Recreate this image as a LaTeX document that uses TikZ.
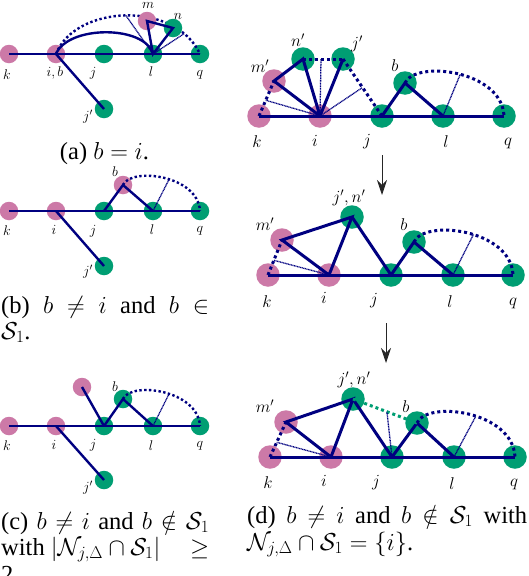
\RequirePackage{fix-cm}
\documentclass[tikz,border=0pt]{standalone}
\usepackage{fontspec}
\setmainfont{Liberation Serif}
\usetikzlibrary{arrows.meta}
\definecolor{nblue}{RGB}{0,0,128}
\definecolor{npink}{RGB}{204,121,167}
\definecolor{ngreen}{RGB}{0,158,115}
\newcommand\capfnt{\fontsize{24.5}{27}\selectfont\spaceskip=0.25em plus 0.2em minus 0.08em\relax\thickmuskip=5mu plus 3.5mu\relax\medmuskip=4mu plus 1mu minus 2mu\relax}
\newcommand\lblsm{\fontsize{14}{14}\selectfont}
\newcommand\lblbg{\fontsize{17}{17}\selectfont}
\begin{document}
\begin{tikzpicture}[x=1pt,y=-1pt,
 pks/.style={circle,fill=npink,draw=none,inner sep=0pt,minimum size=18.5pt},
 grs/.style={circle,fill=ngreen,draw=none,inner sep=0pt,minimum size=18.5pt},
 pkb/.style={circle,fill=npink,draw=none,inner sep=0pt,minimum size=23.5pt},
 grb/.style={circle,fill=ngreen,draw=none,inner sep=0pt,minimum size=23.5pt},
 eds/.style={draw=nblue,line width=2.4pt},
 edb/.style={draw=nblue,line width=3pt},
 dts/.style={draw=nblue,line width=2.4pt,dash pattern=on 2.4pt off 2.4pt},
 dtb/.style={draw=nblue,line width=3pt,dash pattern=on 3pt off 3pt},
 dtg/.style={draw=ngreen,line width=3pt,dash pattern=on 3pt off 3pt},
 hair/.style={draw=nblue,line width=1.3pt,dash pattern=on 1pt off 0.6pt},
 lbs/.style={inner sep=0pt,font=\lblsm},
 lbb/.style={inner sep=0pt,font=\lblbg},
 captxt/.style={inner sep=0pt,anchor=base west,font=\capfnt},
 arr/.style={draw=black!85,line width=0.9pt,-{Stealth[length=15pt,width=10pt,inset=5pt]}}
]
\useasboundingbox (0,0) rectangle (528,576);
\clip (0,0) rectangle (528,576);

%% ---------------- panel (a)
\node[pks] (ak) at (9,54) {};
\node[pks] (ai) at (56,54) {};
\node[grs] (aj) at (104,54) {};
\node[grs] (al) at (153,54) {};
\node[grs] (aq) at (200,54) {};
\node[grs] (ajp) at (104,109) {};
\draw[dts] (ai.center) .. controls (75,5) and (175,0) .. (aq.center)
  coordinate[pos=0.5] (ax1) coordinate[pos=0.85] (ax2);
\node[pks] (am) at (147,21) {};
\node[grs] (an) at (173,28) {};
\draw[eds] (ak.center) -- (aq.center);
\draw[eds] (ai.center) -- (ajp.center);
\draw[eds] (ai.center) .. controls (68,25) and (145,25) .. (al.center);
\draw[eds,line join=miter] (al.center) -- (am.center) -- (an.center) -- cycle;
\draw[hair] (al.center) -- (ax1);
\draw[hair] (al.center) -- (ax2);
\node[lbs] (akL) at (7,75) {$k$};
\node[lbs] (aiL) at (55,73) {$i,b$};
\node[lbs] (ajL) at (93,73) {$j$};
\node[lbs] (alL) at (151,72) {$l$};
\node[lbs] (aqL) at (200,75) {$q$};
\node[lbs] (amL) at (148,5) {$m$};
\node[lbs] (anL) at (178,16) {$n$};
\node[lbs] (ajpL) at (88,117) {$j'$};

%% ---------------- panel (b)
\node[pks] (bk) at (9,211) {};
\node[pks] (bi) at (56,211) {};
\node[grs] (bj) at (104,211) {};
\node[grs] (bl) at (153,211) {};
\node[grs] (bq) at (200,211) {};
\node[pks] (bb) at (123,185) {};
\node[grs] (bjp) at (104,266) {};
\draw[eds] (bk.center) -- (bq.center);
\draw[eds] (bi.center) -- (bjp.center);
\draw[eds] (bj.center) -- (bb.center) -- (bl.center);
\draw[dts] (bb.center) .. controls (131,167) and (198,175) .. (bq.center)
  coordinate[pos=0.55] (bx1);
\draw[hair] (bl.center) -- (bx1);
\node[lbs] (bkL) at (7,231) {$k$};
\node[lbs] (biL) at (54,230) {$i$};
\node[lbs] (bjL) at (93,231) {$j$};
\node[lbs] (blL) at (152,230) {$l$};
\node[lbs] (bqL) at (200,231) {$q$};
\node[lbs] (bbL) at (115,172) {$b$};
\node[lbs] (bjpL) at (88,272) {$j'$};

%% ---------------- panel (c)
\node[pks] (ck) at (9,426) {};
\node[pks] (ci) at (56,426) {};
\node[grs] (cj) at (104,426) {};
\node[grs] (cl) at (153,426) {};
\node[grs] (cq) at (200,426) {};
\node[pks] (cm) at (82,387) {};
\node[grs] (cb) at (123,399) {};
\node[grs] (cjp) at (104,480) {};
\draw[eds] (ck.center) -- (cq.center);
\draw[eds] (ci.center) -- (cjp.center);
\draw[eds] (cj.center) -- (cm.center);
\draw[eds] (cj.center) -- (cb.center) -- (cl.center);
\draw[dts] (cb.center) .. controls (131,381) and (198,390) .. (cq.center)
  coordinate[pos=0.55] (cx1);
\draw[hair] (cl.center) -- (cx1);
\node[lbs] (ckL) at (7,446) {$k$};
\node[lbs] (ciL) at (54,445) {$i$};
\node[lbs] (cjL) at (93,445) {$j$};
\node[lbs] (clL) at (151,446) {$l$};
\node[lbs] (cqL) at (200,446) {$q$};
\node[lbs] (cbL) at (115,387) {$b$};
\node[lbs] (cjpL) at (88,488) {$j'$};

%% ---------------- panel (d) top
\node[pkb] (dk) at (259,116) {};
\node[pkb] (di) at (320,116) {};
\node[grb] (dj) at (382,116) {};
\node[grb] (dl) at (443,116) {};
\node[grb] (dq) at (504,116) {};
\node[pkb] (dm) at (274,81) {};
\node[grb] (dn) at (303,59) {};
\node[grb] (djp) at (343,59) {};
\node[grb] (db) at (405,83) {};
\draw[edb] (dk.center) -- (dq.center);
\draw[edb] (di.center) -- (dm.center) -- (dn.center) -- (di.center);
\draw[edb] (di.center) -- (djp.center);
\draw[edb] (dj.center) -- (db.center) -- (dl.center);
\draw[dtb] (dk.center) -- (dm.center) coordinate[pos=0.45] (dx1);
\draw[dtb] (dn.center) -- (djp.center) coordinate[pos=0.45] (dx2);
\draw[dtb] (djp.center) -- (dj.center) coordinate[pos=0.5] (dx3);
\draw[dtb] (db.center) .. controls (415,60) and (502,70) .. (dq.center)
  coordinate[pos=0.52] (dx4);
\draw[hair] (di.center) -- (dx1);
\draw[hair] (di.center) -- (dx2);
\draw[hair] (di.center) -- (dx3);
\draw[hair] (dl.center) -- (dx4);
\node[lbb] (dkL) at (257,142) {$k$};
\node[lbb] (diL) at (315,141) {$i$};
\node[lbb] (djL) at (367,142) {$j$};
\node[lbb] (dlL) at (446,142) {$l$};
\node[lbb] (dqL) at (508,143) {$q$};
\node[lbb] (dmL) at (260,66) {$m'$};
\node[lbb] (dnL) at (298,40) {$n'$};
\node[lbb] (djpL) at (357,44) {$j'$};
\node[lbb] (dbL) at (395,66) {$b$};

%% ---------------- panel (d) middle
\node[pkb] (ek) at (268,275) {};
\node[pkb] (ei) at (329,275) {};
\node[grb] (ej) at (391,275) {};
\node[grb] (el) at (453,275) {};
\node[grb] (eq) at (513,275) {};
\node[pkb] (em) at (282,240) {};
\node[grb] (en) at (352,217) {};
\node[grb] (eb) at (414,242) {};
\draw[edb] (ek.center) -- (eq.center);
\draw[edb] (ei.center) -- (em.center) -- (en.center) -- (ei.center);
\draw[edb] (en.center) -- (ej.center);
\draw[edb] (ej.center) -- (eb.center) -- (el.center);
\draw[dtb] (ek.center) -- (em.center) coordinate[pos=0.42] (ex1);
\draw[dtb] (eb.center) .. controls (424,219) and (511,229) .. (eq.center)
  coordinate[pos=0.55] (ex2);
\draw[hair] (ei.center) -- (ex1);
\draw[hair] (el.center) -- (ex2);
\node[lbb] (ekL) at (267,302) {$k$};
\node[lbb] (eiL) at (324,298) {$i$};
\node[lbb] (ejL) at (374,301) {$j$};
\node[lbb] (elL) at (450,302) {$l$};
\node[lbb] (eqL) at (513,303) {$q$};
\node[lbb] (emL) at (265,224) {$m'$};
\node[lbb] (enL) at (349,198) {$j',n'$};
\node[lbb] (ebL) at (404,225) {$b$};

%% ---------------- panel (d) bottom
\node[pkb] (fk) at (270,457) {};
\node[pkb] (fi) at (331,457) {};
\node[grb] (fj) at (392,457) {};
\node[grb] (fl) at (454,457) {};
\node[grb] (fq) at (515,457) {};
\node[pkb] (fm) at (286,422) {};
\node[grb] (fn) at (353,399) {};
\node[grb] (fb) at (417,423) {};
\draw[edb] (fk.center) -- (fq.center);
\draw[edb] (fi.center) -- (fm.center) -- (fn.center) -- (fi.center);
\draw[edb] (fn.center) -- (fj.center);
\draw[edb] (fj.center) -- (fb.center) -- (fl.center);
\draw[dtb] (fk.center) -- (fm.center) coordinate[pos=0.42] (fx1);
\draw[dtg] (fn.center) -- (fb.center) coordinate[pos=0.53] (fx2);
\draw[dtb] (fb.center) .. controls (427,400) and (513,411) .. (fq.center)
  coordinate[pos=0.55] (fx3);
\draw[hair] (fi.center) -- (fx1);
\draw[hair] (fj.center) -- (fx2);
\draw[hair] (fl.center) -- (fx3);
\node[lbb] (fkL) at (268,483) {$k$};
\node[lbb] (fiL) at (324,481) {$i$};
\node[lbb] (fjL) at (376,483) {$j$};
\node[lbb] (flL) at (452,484) {$l$};
\node[lbb] (fqL) at (514,484) {$q$};
\node[lbb] (fmL) at (265,406) {$m'$};
\node[lbb] (fnL) at (354,380) {$j',n'$};
\node[lbb] (fbL) at (406,407) {$b$};

%% ---------------- arrows
\coordinate (ar1s) at (382,155);
\coordinate (ar1e) at (382,195);
\coordinate (ar2s) at (386,323);
\coordinate (ar2e) at (386,363);
\draw[arr] (ar1s) -- (ar1e);
\draw[arr] (ar2s) -- (ar2e);

%% ---------------- captions
\node[captxt,anchor=base] (capa) at (104.5,159) {(a) $b=i$.};
\node[captxt] (capb1) at (1,313) {\makebox[208pt][s]{(b) $b\neq i$ and $b\in$}};
\node[captxt] (capb2) at (1,339) {$\mathcal{S}_1$.};
\node[captxt] (capc1) at (1,529) {\makebox[208pt][s]{(c) $b\neq i$ and $b\notin\mathcal{S}_1$}};
\node[captxt] (capc2) at (1,555) {\makebox[208pt][s]{with $|\mathcal{N}_{j,\Delta}\cap\mathcal{S}_1|$\hfill$\geq$}};
\node[captxt] (capc3) at (1,582) {2.};
\node[captxt] (capd1) at (247,523) {\makebox[280pt][s]{(d) $b\neq i$ and $b\notin\mathcal{S}_1$ with}};
\node[captxt] (capd2) at (247,550) {$\mathcal{N}_{j,\Delta}\cap\mathcal{S}_1=\{i\}$.};
\end{tikzpicture}
\end{document}
